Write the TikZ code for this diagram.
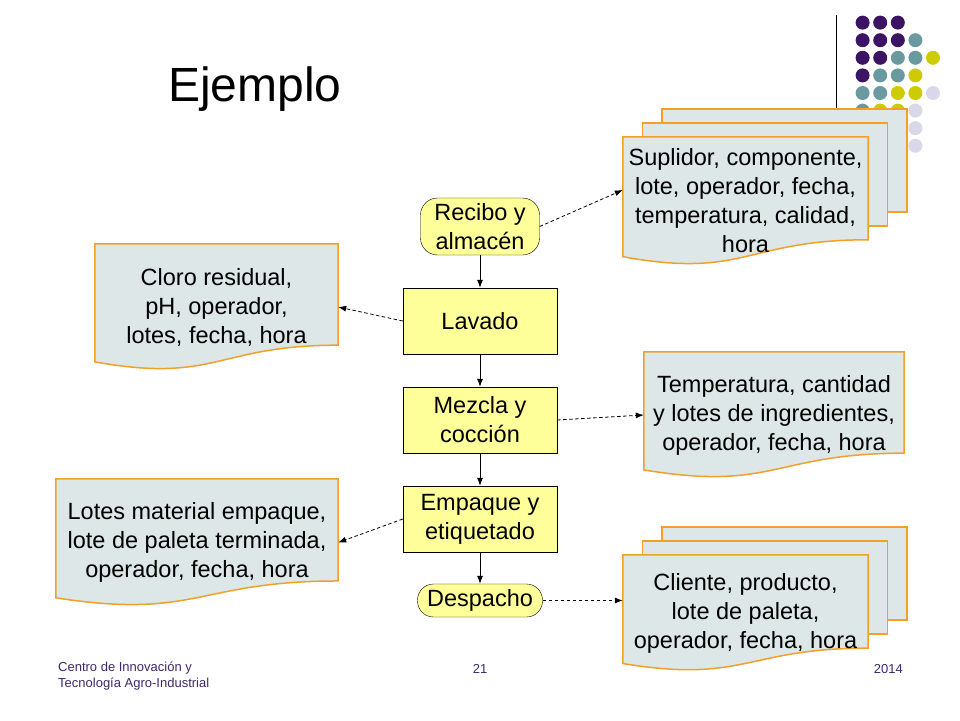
\documentclass[tikz,border=0pt]{standalone}
\usepackage{fontspec}
\setmainfont{Liberation Sans}
\usetikzlibrary{calc,backgrounds,arrows.meta}

\definecolor{amarillo}{RGB}{255,255,153}
\definecolor{hoja}{RGB}{221,231,231}
\definecolor{borde}{RGB}{242,160,40}
\definecolor{pie}{RGB}{62,40,108}
\definecolor{morado}{RGB}{60,20,100}
\definecolor{verdeazul}{RGB}{106,154,160}
\definecolor{oliva}{RGB}{204,204,0}
\definecolor{lila}{RGB}{216,216,232}

% hoja de registro: borde recto arriba, ondulado abajo
\newcommand{\hojaforma}[1]{%
  \path[hojaborde] (#1.north west) -- (#1.north east)
    -- ($(#1.north east)!0.802!(#1.south east)$)
    .. controls ($(#1.north)!0.802!(#1.south)$) and ($(#1.north)!1.107!(#1.south)$)
    .. ($(#1.north west)!0.934!(#1.south west)$) -- cycle;}
% dos hojas de fondo para los registros multiples
\newcommand{\hojasatras}[1]{%
  \foreach \dx/\dy in {39/-28, 19.5/-14}
    \path[hojaborde] ($(#1.north west)+(\dx,\dy)$) rectangle
      ($($(#1.north east)!0.802!(#1.south east)$)+(\dx,\dy)$);}

\begin{document}
\begin{tikzpicture}[x=1pt, y=-1pt,
    font=\fontsize{23.5}{29}\selectfont,
    paso/.style={draw, fill=amarillo, align=center, inner sep=0pt,
      minimum width=154pt, minimum height=66pt},
    redondo/.style={paso, rounded corners=17pt},
    hojatexto/.style={align=center, inner sep=0pt},
    hojaborde/.style={fill=hoja, draw=borde, line width=1.5pt},
    flujo/.style={-{Latex[length=8pt,width=6pt]}, line width=0.8pt},
    registro/.style={flujo, dash pattern=on 3.5pt off 2.5pt}]
  \useasboundingbox (0,0) rectangle (960,720);

  % titulo y pie
  \node[anchor=base west, inner sep=0pt, font=\fontsize{48}{58}\selectfont]
    (titulo) at (168,101) {Ejemplo};
  \node[anchor=north west, align=left, inner sep=0pt, text=pie,
    font=\fontsize{13}{16}\selectfont] (centro) at (58,662)
    {Centro de Innovación y\\Tecnología Agro-Industrial};
  \node[anchor=base, inner sep=0pt, text=pie, font=\fontsize{13}{16}\selectfont]
    (pagina) at (480,673) {21};
  \node[anchor=base east, inner sep=0pt, text=pie, font=\fontsize{13}{16}\selectfont]
    (anio) at (903,673) {2014};

  % pasos del proceso
  \node[redondo, minimum width=119pt, minimum height=57pt]
    (recibo) at (480,226.5) {Recibo y\\almacén};
  \node[paso] (lavado) at (480,321) {Lavado};
  \node[paso] (mezcla) at (480,420) {Mezcla y\\cocción};
  \node[paso] (empaque) at (480,519) {Empaque y\\etiquetado};
  \node[redondo, rounded corners=16pt, minimum width=125pt, minimum height=33pt]
    (despacho) at (480,600.5) {Despacho};

  % registros
  \node[hojatexto, minimum width=245pt, minimum height=128pt]
    (suplidor) at (745.5,201) {Suplidor, componente,\\lote, operador, fecha,\\temperatura, calidad,\\hora};
  \node[hojatexto, minimum width=243pt, minimum height=126pt]
    (cloro) at (216.5,307) {Cloro residual,\\pH, operador,\\lotes, fecha, hora};
  \node[hojatexto, minimum width=260pt, minimum height=126pt]
    (temperatura) at (774,415) {Temperatura, cantidad\\y lotes de ingredientes,\\operador, fecha, hora};
  \node[hojatexto, minimum width=282pt, minimum height=127pt]
    (lotes) at (197,542.5) {Lotes material empaque,\\lote de paleta terminada,\\operador, fecha, hora};
  \node[hojatexto, minimum width=245pt, minimum height=116pt]
    (cliente) at (745.5,613) {Cliente, producto,\\lote de paleta,\\operador, fecha, hora};

  \begin{scope}[on background layer]
    \draw[line width=0.8pt] (836,15) -- (836,130);
    \foreach \c/\r/\col in {1/1/morado, 2/1/morado, 3/1/morado,
        1/2/morado, 2/2/morado, 3/2/morado, 4/2/verdeazul,
        1/3/morado, 2/3/morado, 3/3/verdeazul, 4/3/verdeazul, 5/3/oliva,
        1/4/morado, 2/4/verdeazul, 3/4/verdeazul, 4/4/oliva,
        1/5/verdeazul, 2/5/verdeazul, 3/5/oliva, 4/5/oliva, 5/5/lila,
        1/6/verdeazul, 2/6/oliva, 3/6/oliva, 4/6/lila,
        3/7/lila, 4/7/lila, 4/8/lila}
      \fill[\col] (845+17.6*\c, 5+17.6*\r) circle (7pt);
    \hojasatras{suplidor}
    \hojaforma{suplidor}
    \hojaforma{cloro}
    \hojaforma{temperatura}
    \hojaforma{lotes}
    \hojasatras{cliente}
    \hojaforma{cliente}
  \end{scope}

  \draw[flujo] (recibo) -- (lavado);
  \draw[flujo] (lavado) -- (mezcla);
  \draw[flujo] (mezcla) -- (empaque);
  \draw[flujo] (empaque) -- (despacho);

  \draw[registro] (recibo.east) -- ([yshift=11pt]suplidor.west);
  \draw[registro] (lavado.west) -- (cloro.east);
  \draw[registro] (mezcla.east) -- (temperatura.west);
  \draw[registro] (empaque.west) -- (lotes.east);
  \draw[registro] (despacho.east) -- (despacho.east -| cliente.west);
\end{tikzpicture}
\end{document}
